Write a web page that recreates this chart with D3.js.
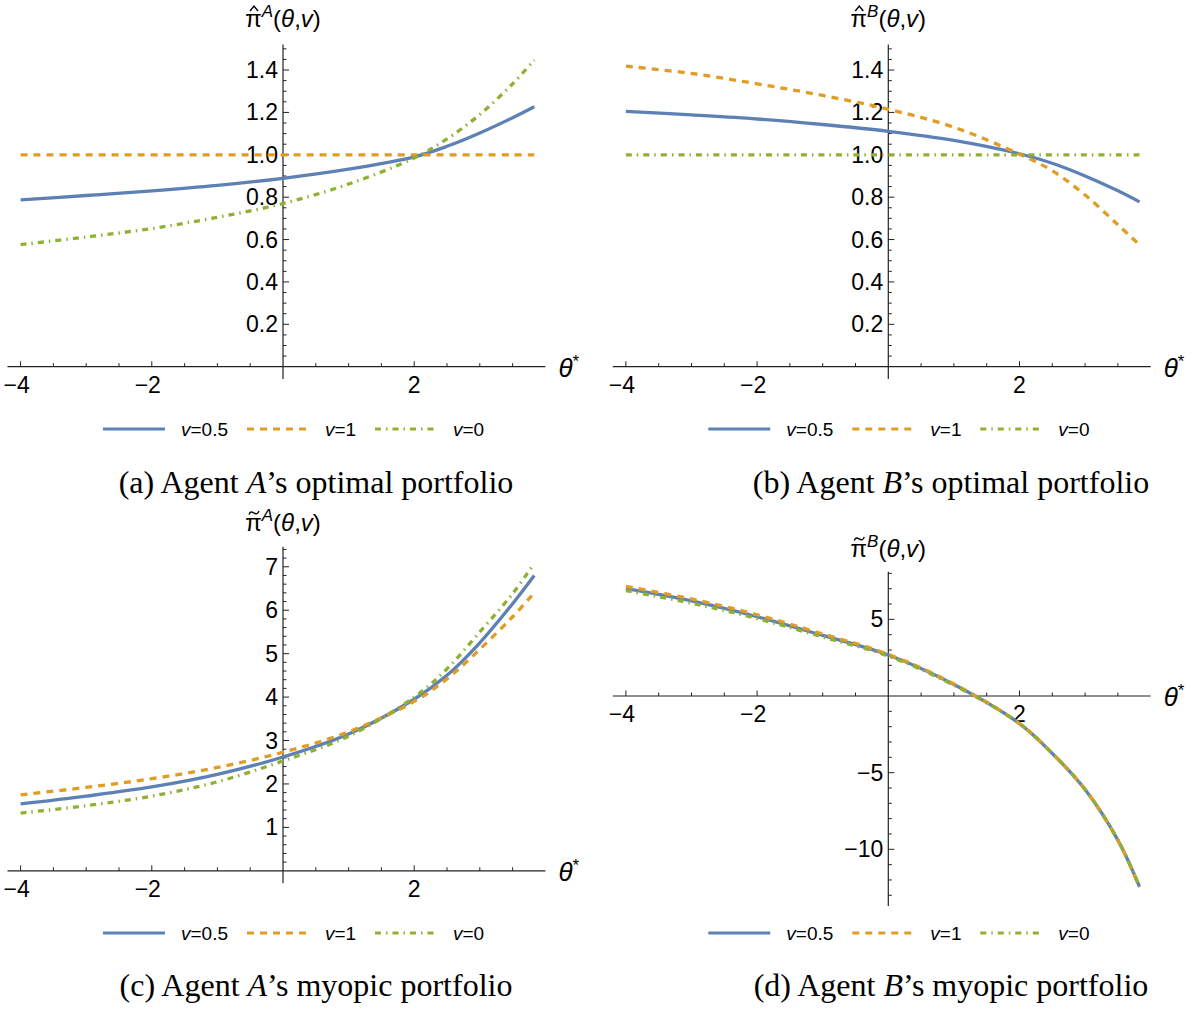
<!DOCTYPE html>
<html>
<head>
<meta charset="utf-8">
<script src="https://cdn.jsdelivr.net/npm/d3@7"></script>
<style>
  body { margin: 0; background: #fff; }
  svg text { font-family: "Liberation Sans", Arial, sans-serif; }
  .caption { font-family: "Liberation Serif", "Times New Roman", serif; }
</style>
</head>
<body>
<div id="chart"></div>
<script>
// theta* sample points
var theta = [-4, -3, -2, -1, 0, 1, 2, 2.5, 3, 3.5, 3.83];

// (a) optimal portfolio, agent A
var optA_half = [0.787, 0.808, 0.830, 0.856, 0.889, 0.932, 0.990, 1.040, 1.103, 1.175, 1.227];
var optA_one  = [1, 1, 1, 1, 1, 1, 1, 1, 1, 1, 1];
var optA_zero = [0.576, 0.612, 0.652, 0.705, 0.770, 0.862, 0.985, 1.075, 1.190, 1.335, 1.447];

// (b) optimal portfolio, agent B
var optB_half = [1.205, 1.188, 1.169, 1.143, 1.111, 1.068, 1.005, 0.960, 0.900, 0.830, 0.778];
var optB_one  = [1.418, 1.384, 1.335, 1.280, 1.215, 1.130, 1.003, 0.925, 0.810, 0.670, 0.575];
var optB_zero = [1, 1, 1, 1, 1, 1, 1, 1, 1, 1, 1];

// (c) myopic portfolio, agent A
var myoA_half = [1.54, 1.72, 1.93, 2.22, 2.62, 3.15, 3.95, 4.50, 5.25, 6.15, 6.80];
var myoA_one  = [1.75, 1.92, 2.12, 2.38, 2.73, 3.20, 3.90, 4.42, 5.10, 5.85, 6.40];
var myoA_zero = [1.33, 1.50, 1.72, 2.05, 2.53, 3.10, 4.00, 4.65, 5.50, 6.38, 7.08];

// (d) myopic portfolio, agent B
var myoB_half = [7.00, 6.20, 5.17, 3.95, 2.67, 0.75, -1.80, -3.75, -6.10, -9.40, -12.45];
var myoB_one  = [7.15, 6.33, 5.30, 4.05, 2.72, 0.78, -1.80, -3.75, -6.10, -9.40, -12.45];
var myoB_zero = [6.87, 6.05, 5.05, 3.85, 2.60, 0.70, -1.80, -3.75, -6.10, -9.40, -12.45];

// legend entries
var seriesNames = ["0.5", "1", "0"];
var colors = ["#5E81B5", "#E19C24", "#8FB032"];
var dashArr = [null, "7,6", "6,5,1.5,5"];

// tick values
var xMajor = [-4, -2, 2];
var yMajorOpt = [0.2, 0.4, 0.6, 0.8, 1.0, 1.2, 1.4];
var yMajorMyoA = [1, 2, 3, 4, 5, 6, 7];
var yMajorMyoB = [5, -5, -10];

var W = 1200, H = 1010;
var svg = d3.select("#chart").append("svg")
    .attr("width", W)
    .attr("height", H);

var minus = d => d3.format("d")(d).replace("-", "\u2212");

// panel layout: origin in px, px per unit, axis extents
var panels = [
  {ox: 283, oy: 366.7, ky: 211.9, yLo: -0.03, yHi: 1.52, ys: [optA_half, optA_one, optA_zero],
   yMajor: yMajorOpt, yMinorStep: 0.05, fmt: d3.format(".1f"), acc: "hat", sup: "A",
   labY: 27, legY: 429, capY: 493, cap: ["(a) Agent ", "A", "\u2019s optimal portfolio"], capX: 316},
  {ox: 888.3, oy: 366.7, ky: 211.9, yLo: -0.03, yHi: 1.52, ys: [optB_half, optB_one, optB_zero],
   yMajor: yMajorOpt, yMinorStep: 0.05, fmt: d3.format(".1f"), acc: "hat", sup: "B",
   labY: 27, legY: 429, capY: 493, cap: ["(b) Agent ", "B", "\u2019s optimal portfolio"], capX: 951},
  {ox: 283, oy: 870.8, ky: 43.43, yLo: -0.15, yHi: 7.46, ys: [myoA_half, myoA_one, myoA_zero],
   yMajor: yMajorMyoA, yMinorStep: 0.2, fmt: d3.format("d"), acc: "tilde", sup: "A",
   labY: 531, legY: 933, capY: 996, cap: ["(c) Agent ", "A", "\u2019s myopic portfolio"], capX: 316},
  {ox: 888.3, oy: 696, ky: 15.33, yLo: -13.3, yHi: 8.1, ys: [myoB_half, myoB_one, myoB_zero],
   yMajor: yMajorMyoB, yMinorStep: 1, fmt: minus, acc: "tilde", sup: "B",
   labY: 557, legY: 933, capY: 996, cap: ["(d) Agent ", "B", "\u2019s myopic portfolio"], capX: 951}
];

var kx = 65.6;

panels.forEach(function(p) {
  var x = d3.scaleLinear()
      .domain([-4.2, 4])
      .range([p.ox - 4.2 * kx, p.ox + 4 * kx]);
  var y = d3.scaleLinear()
      .domain([p.yLo, p.yHi])
      .range([p.oy - p.yLo * p.ky, p.oy - p.yHi * p.ky]);

  var g = svg.append("g");

  // x axis (minor ticks every 0.5)
  var xMinor = d3.range(-4, 4, 0.5).filter(d => d !== 0);
  g.append("line")
      .attr("x1", x(-4.2)).attr("x2", x(4))
      .attr("y1", y(0)).attr("y2", y(0))
      .attr("stroke", "#222").attr("stroke-width", 1.2);
  g.selectAll(".xt").data(xMinor).join("line")
      .attr("x1", d => x(d)).attr("x2", d => x(d))
      .attr("y1", y(0))
      .attr("y2", d => y(0) - (xMajor.indexOf(d) >= 0 ? 5.5 : 3.5))
      .attr("stroke", "#222").attr("stroke-width", 1);
  g.selectAll(".xl").data(xMajor).join("text")
      .attr("x", d => x(d) - (d < 0 ? 4 : 0))
      .attr("y", y(0) + 26)
      .attr("text-anchor", "middle")
      .attr("font-size", 23)
      .text(minus);

  // y axis
  var yMinor = d3.range(Math.ceil(p.yLo / p.yMinorStep) * p.yMinorStep, p.yHi, p.yMinorStep)
      .map(d => Math.round(d * 1000) / 1000)
      .filter(d => d !== 0);
  g.append("line")
      .attr("x1", x(0)).attr("x2", x(0))
      .attr("y1", y(p.yLo) + 6).attr("y2", y(p.yHi))
      .attr("stroke", "#222").attr("stroke-width", 1.2);
  g.selectAll(".yt").data(yMinor).join("line")
      .attr("x1", x(0))
      .attr("x2", d => x(0) + (p.yMajor.some(m => Math.abs(m - d) < 1e-6) ? 6 : 3.5))
      .attr("y1", d => y(d)).attr("y2", d => y(d))
      .attr("stroke", "#222").attr("stroke-width", 1);
  g.selectAll(".yl").data(p.yMajor).join("text")
      .attr("x", x(0) - 5)
      .attr("y", d => y(d) + 8)
      .attr("text-anchor", "end")
      .attr("font-size", 23)
      .text(p.fmt);

  // axis labels
  var lab = g.append("text")
      .attr("x", x(0))
      .attr("y", p.labY)
      .attr("text-anchor", "middle")
      .attr("font-size", 24);
  lab.append("tspan").text("\u03c0");
  lab.append("tspan").attr("font-size", 17).attr("font-style", "italic").attr("dy", -10).text(p.sup);
  lab.append("tspan").attr("dy", 10).text("(");
  lab.append("tspan").attr("font-style", "italic").text("\u03b8");
  lab.append("tspan").text(",");
  lab.append("tspan").attr("font-style", "italic").text("v");
  lab.append("tspan").text(")");
  // accent over pi, drawn as a small path
  var pr = lab.node().getExtentOfChar(0);
  var cx = pr.x + pr.width / 2 + 0.5, cy = p.labY - 17;
  var accPath = p.acc === "hat"
      ? "M" + (cx - 4) + "," + (cy + 1) + "L" + cx + "," + (cy - 4) + "L" + (cx + 4) + "," + (cy + 1)
      : "M" + (cx - 5) + "," + (cy + 0.5) + "C" + (cx - 3) + "," + (cy - 4) + " " + (cx - 1) + "," + (cy - 1)
        + " " + cx + "," + (cy - 1) + "C" + (cx + 1) + "," + (cy - 1) + " " + (cx + 3) + "," + (cy + 2)
        + " " + (cx + 5) + "," + (cy - 3);
  g.append("path")
      .attr("d", accPath)
      .attr("fill", "none")
      .attr("stroke", "#000")
      .attr("stroke-width", 1.4);

  var th = g.append("text")
      .attr("x", x(4) + 13)
      .attr("y", y(0) + 10)
      .attr("font-size", 26);
  th.append("tspan").attr("font-style", "italic").text("\u03b8");
  th.append("tspan").attr("font-size", 17).attr("dy", -10).text("*");

  // curves
  var line = d3.line()
      .x((d, i) => x(theta[i]))
      .y(d => y(d))
      .curve(d3.curveCatmullRom.alpha(0.5));
  p.ys.forEach(function(s, k) {
    g.append("path")
        .attr("d", line(s))
        .attr("fill", "none")
        .attr("stroke", colors[k])
        .attr("stroke-width", 3.3)
        .attr("stroke-dasharray", dashArr[k]);
  });

  // legend
  var legX = p.ox - 180;
  var legStarts = [0, 144, 272];
  seriesNames.forEach(function(n, k) {
    var lx = legX + legStarts[k];
    g.append("line")
        .attr("x1", lx).attr("x2", lx + 62)
        .attr("y1", p.legY).attr("y2", p.legY)
        .attr("stroke", colors[k])
        .attr("stroke-width", 3.2)
        .attr("stroke-dasharray", dashArr[k]);
    var t = g.append("text")
        .attr("x", lx + 78)
        .attr("y", p.legY + 7)
        .attr("font-size", 19);
    t.append("tspan").attr("font-style", "italic").text("v");
    t.append("tspan").text("=" + n);
  });

  // caption
  var c = g.append("text")
      .attr("class", "caption")
      .attr("x", p.capX)
      .attr("y", p.capY)
      .attr("text-anchor", "middle")
      .attr("font-size", 32);
  c.append("tspan").text(p.cap[0]);
  c.append("tspan").attr("font-style", "italic").text(p.cap[1]);
  c.append("tspan").text(p.cap[2]);
});
</script>
</body>
</html>
